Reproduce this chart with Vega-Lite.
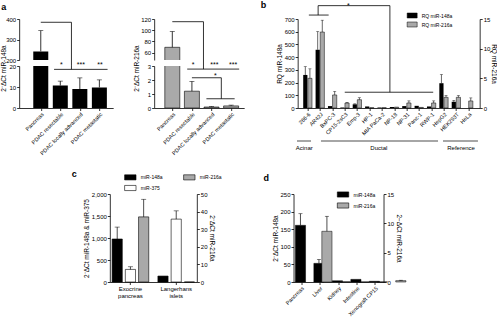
{
"$schema": "https://vega.github.io/schema/vega-lite/v6.json",
"padding": {"left": 0, "top": 0, "right": 0, "bottom": 8},
"background": "white",
"config": {
  "font": "Liberation Sans",
  "view": {"stroke": null},
  "axis": {"labelFontSize": 6, "titleFontSize": 6.5, "titleFontWeight": "normal", "domainColor": "black", "tickColor": "black", "labelColor": "black", "titleColor": "black", "tickSize": 2.5, "grid": false, "labelPadding": 1, "titlePadding": 2, "domainWidth": 0.8, "tickWidth": 0.8, "labelOverlap": false, "labelFlush": false, "labelBound": false},
  "legend": {"labelFontSize": 5, "labelColor": "black", "title": null},
  "title": {"fontSize": 9, "fontWeight": "bold", "anchor": "start", "frame": "group", "color": "black"}
},
"datasets": {
  "a1": [
    {"g": "Pancreas", "i": 1, "v": 242, "e": 343},
    {"g": "PDAC resectable", "i": 2, "v": 10.7, "e": 12.8},
    {"g": "PDAC locally advanced", "i": 3, "v": 9.0, "e": 14.3},
    {"g": "PDAC metastatic", "i": 4, "v": 9.8, "e": 13.4}
  ],
  "a1top": [
    {"x": 1, "x2": 2.57, "y": 384, "y2": 384},
    {"x": 2.57, "x2": 2.57, "y": 384, "y2": 171}
  ],
  "a1bot": [
    {"x": 2.57, "x2": 2.57, "y": 18.4, "y2": 20},
    {"x": 1.68, "x2": 4.42, "y": 18.4, "y2": 18.4}
  ],
  "a1stars": [
    {"i": 2.05, "y": 20.3, "t": "*"},
    {"i": 3.05, "y": 20.3, "t": "***"},
    {"i": 4.03, "y": 20.3, "t": "**"}
  ],
  "a2": [
    {"g": "Pancreas", "i": 1, "v": 69.6, "e": 97.8},
    {"g": "PDAC resectable", "i": 2, "v": 1.2, "e": 1.9},
    {"g": "PDAC locally advanced", "i": 3, "v": 0.07, "e": 0.1},
    {"g": "PDAC metastatic", "i": 4, "v": 0.15, "e": 0.2}
  ],
  "a2top": [
    {"x": 1, "x2": 2.59, "y": 115.2, "y2": 115.2},
    {"x": 2.59, "x2": 2.59, "y": 115.2, "y2": 36.3}
  ],
  "a2bot": [
    {"x": 2.59, "x2": 2.59, "y": 2.78, "y2": 3},
    {"x": 1.76, "x2": 4.41, "y": 2.78, "y2": 2.78},
    {"x": 2, "x2": 3.5, "y": 2.16, "y2": 2.16},
    {"x": 3.5, "x2": 3.5, "y": 2.16, "y2": 0.66},
    {"x": 2.74, "x2": 4.18, "y": 0.66, "y2": 0.66}
  ],
  "a2stars": [
    {"i": 2.06, "y": 3.09, "t": "*"},
    {"i": 3.15, "y": 3.09, "t": "***"},
    {"i": 4.1, "y": 3.09, "t": "***"},
    {"i": 3.2, "y": 2.27, "t": "*"}
  ],
  "b": [
    {"cell": "266-6", "i": 0, "s": "RQ miR-148a", "v": 260, "e": 325},
    {"cell": "AR42J", "i": 1, "s": "RQ miR-148a", "v": 458, "e": 601},
    {"cell": "BxPC-3", "i": 2, "s": "RQ miR-148a", "v": 15, "e": null},
    {"cell": "CP15-2sC3", "i": 3, "s": "RQ miR-148a", "v": 4, "e": null},
    {"cell": "Emp-3", "i": 4, "s": "RQ miR-148a", "v": 29, "e": 33},
    {"cell": "HP-1", "i": 5, "s": "RQ miR-148a", "v": 12, "e": null},
    {"cell": "MIA PaCa-2", "i": 6, "s": "RQ miR-148a", "v": 4, "e": null},
    {"cell": "NP-18", "i": 7, "s": "RQ miR-148a", "v": 8, "e": null},
    {"cell": "NP-31", "i": 8, "s": "RQ miR-148a", "v": 15, "e": null},
    {"cell": "Panc-1", "i": 9, "s": "RQ miR-148a", "v": 17, "e": null},
    {"cell": "RWP-1", "i": 10, "s": "RQ miR-148a", "v": 12, "e": null},
    {"cell": "HepG2", "i": 11, "s": "RQ miR-148a", "v": 195, "e": 263},
    {"cell": "HEK293T", "i": 12, "s": "RQ miR-148a", "v": 49, "e": 60},
    {"cell": "HeLa", "i": 13, "s": "RQ miR-148a", "v": 0, "e": null},
    {"cell": "266-6", "i": 0, "s": "RQ miR-216a", "v": 5.0, "e": 6.6},
    {"cell": "AR42J", "i": 1, "s": "RQ miR-216a", "v": 12.8, "e": 14.8},
    {"cell": "BxPC-3", "i": 2, "s": "RQ miR-216a", "v": 2.2, "e": 2.8},
    {"cell": "CP15-2sC3", "i": 3, "s": "RQ miR-216a", "v": 0.84, "e": 0.95},
    {"cell": "Emp-3", "i": 4, "s": "RQ miR-216a", "v": 1.4, "e": 1.73},
    {"cell": "HP-1", "i": 5, "s": "RQ miR-216a", "v": 0.05, "e": null},
    {"cell": "MIA PaCa-2", "i": 6, "s": "RQ miR-216a", "v": 0.05, "e": null},
    {"cell": "NP-18", "i": 7, "s": "RQ miR-216a", "v": 0.15, "e": null},
    {"cell": "NP-31", "i": 8, "s": "RQ miR-216a", "v": 0.85, "e": 1.2},
    {"cell": "Panc-1", "i": 9, "s": "RQ miR-216a", "v": 0.1, "e": null},
    {"cell": "RWP-1", "i": 10, "s": "RQ miR-216a", "v": 0.85, "e": 1.2},
    {"cell": "HepG2", "i": 11, "s": "RQ miR-216a", "v": 1.8, "e": 2.1},
    {"cell": "HEK293T", "i": 12, "s": "RQ miR-216a", "v": 1.8, "e": 2.1},
    {"cell": "HeLa", "i": 13, "s": "RQ miR-216a", "v": 1.19, "e": 1.7}
  ],
  "bbr": [
    {"x": 0.1, "x2": 1.7, "y": 731, "y2": 731},
    {"x": 0.85, "x2": 0.85, "y": 731, "y2": 805},
    {"x": 0.85, "x2": 6.65, "y": 805, "y2": 805},
    {"x": 6.65, "x2": 6.65, "y": 805, "y2": 124},
    {"x": 3.0, "x2": 10.15, "y": 124, "y2": 124}
  ],
  "bstars": [{"x": 3.3, "y": 805, "t": "*"}],
  "bgroups": [
    {"grp": "Acinar", "from": -0.45, "to": 0.62, "mid": 0.1},
    {"grp": "Ductal", "from": 1.38, "to": 10.32, "mid": 5.8},
    {"grp": "Reference", "from": 10.7, "to": 13.37, "mid": 12.08}
  ],
  "c": [
    {"tissue": "Exocrine pancreas", "mir": "miR-148a", "v": 977, "e": 1248},
    {"tissue": "Exocrine pancreas", "mir": "miR-375", "v": 286, "e": 346},
    {"tissue": "Exocrine pancreas", "mir": "miR-216a", "v": 37, "e": 47},
    {"tissue": "Langerhans islets", "mir": "miR-148a", "v": 135, "e": null},
    {"tissue": "Langerhans islets", "mir": "miR-375", "v": 1429, "e": 1617},
    {"tissue": "Langerhans islets", "mir": "miR-216a", "v": 0, "e": null}
  ],
  "d": [
    {"t": "Pancreas", "mir": "miR-148a", "v": 161, "e": 194},
    {"t": "Pancreas", "mir": "miR-216a", "v": 8.64, "e": 11.2},
    {"t": "Liver", "mir": "miR-148a", "v": 53, "e": 64},
    {"t": "Liver", "mir": "miR-216a", "v": 0.05, "e": null},
    {"t": "Kidney", "mir": "miR-148a", "v": 3.5, "e": null},
    {"t": "Kidney", "mir": "miR-216a", "v": 0.02, "e": null},
    {"t": "Intestine", "mir": "miR-148a", "v": 7.5, "e": null},
    {"t": "Intestine", "mir": "miR-216a", "v": 0.02, "e": null},
    {"t": "Xenograft CP15", "mir": "miR-148a", "v": 2, "e": null},
    {"t": "Xenograft CP15", "mir": "miR-216a", "v": 0.23, "e": 0.3}
  ]
},
"vconcat": [
  {
    "hconcat": [
      {
        "hconcat": [
          {
            "vconcat": [
              {
                "width": 94, "height": 41,
                "title": {"text": "a", "dx": -18, "offset": 4.5},
                "encoding": {
                  "x": {"field": "i", "type": "quantitative", "scale": {"domain": [0.15, 4.45], "nice": false, "zero": false}, "axis": null},
                  "y": {"field": "v", "type": "quantitative", "scale": {"domain": [200, 400], "nice": false, "zero": false}, "axis": {"values": [200, 300, 400], "title": null}}
                },
                "layer": [
                  {"data": {"name": "a1"}, "mark": {"type": "bar", "size": 15, "color": "black", "clip": true}},
                  {"data": {"name": "a1"}, "mark": {"type": "rule", "clip": true, "color": "black", "strokeWidth": 0.8}, "encoding": {"y2": {"field": "e"}}},
                  {"data": {"name": "a1"}, "mark": {"type": "tick", "clip": true, "color": "black", "orient": "horizontal", "size": 5, "thickness": 0.8},
                   "encoding": {"y": {"field": "e", "type": "quantitative", "axis": {"values": [200, 300, 400], "title": null}}}},
                  {"data": {"name": "a1top"}, "mark": {"type": "rule", "color": "black", "strokeWidth": 0.8},
                   "encoding": {"x": {"field": "x", "type": "quantitative", "axis": null}, "x2": {"field": "x2"}, "y": {"field": "y", "type": "quantitative", "axis": {"values": [200, 300, 400], "title": null}}, "y2": {"field": "y2"}}}
                ]
              },
              {
                "width": 94, "height": 42,
                "encoding": {
                  "x": {"field": "i", "type": "quantitative", "scale": {"domain": [0.15, 4.45], "nice": false, "zero": false},
                        "axis": {"values": [1, 2, 3, 4], "labelExpr": "['','Pancreas','PDAC resectable','PDAC locally advanced','PDAC metastatic'][datum.value]", "labelAngle": -45, "labelAlign": "right", "labelBaseline": "top", "labelFontSize": 5.5, "title": null}},
                  "y": {"field": "v", "type": "quantitative", "scale": {"domain": [0, 20], "nice": false, "zero": false},
                        "axis": {"values": [0, 10, 20], "title": "2⁻ΔCt miR-148a", "titleX": -13, "titleY": 2, "titleAlign": "center", "titleAngle": -90, "titleBaseline": "bottom"}}
                },
                "layer": [
                  {"data": {"name": "a1"}, "mark": {"type": "bar", "size": 15, "color": "black", "clip": true}},
                  {"data": {"name": "a1"}, "mark": {"type": "rule", "clip": true, "color": "black", "strokeWidth": 0.8}, "encoding": {"y2": {"field": "e"}}},
                  {"data": {"name": "a1"}, "mark": {"type": "tick", "clip": true, "color": "black", "orient": "horizontal", "size": 5, "thickness": 0.8},
                   "encoding": {"y": {"field": "e", "type": "quantitative", "axis": {"values": [0, 10, 20], "title": "2⁻ΔCt miR-148a", "titleX": -13, "titleY": 2, "titleAlign": "center", "titleAngle": -90, "titleBaseline": "bottom"}}}},
                  {"data": {"name": "a1bot"}, "mark": {"type": "rule", "color": "black", "strokeWidth": 0.8},
                   "encoding": {
                     "x": {"field": "x", "type": "quantitative", "axis": {"values": [1, 2, 3, 4], "labelExpr": "['','Pancreas','PDAC resectable','PDAC locally advanced','PDAC metastatic'][datum.value]", "labelAngle": -45, "labelAlign": "right", "labelBaseline": "top", "labelFontSize": 5.5, "title": null}},
                     "x2": {"field": "x2"},
                     "y": {"field": "y", "type": "quantitative", "axis": {"values": [0, 10, 20], "title": "2⁻ΔCt miR-148a", "titleX": -13, "titleY": 2, "titleAlign": "center", "titleAngle": -90, "titleBaseline": "bottom"}},
                     "y2": {"field": "y2"}}},
                  {"data": {"name": "a1stars"}, "mark": {"type": "text", "fontSize": 7, "baseline": "middle", "color": "black"},
                   "encoding": {
                     "y": {"field": "y", "type": "quantitative", "axis": {"values": [0, 10, 20], "title": "2⁻ΔCt miR-148a", "titleX": -13, "titleY": 2, "titleAlign": "center", "titleAngle": -90, "titleBaseline": "bottom"}},
                     "text": {"field": "t"}}}
                ]
              }
            ],
            "spacing": 6, "bounds": "flush"
          },
          {
            "vconcat": [
              {
                "width": 90, "height": 41,
                "title": {"text": "a", "color": "transparent", "offset": 4.5},
                "encoding": {
                  "x": {"field": "i", "type": "quantitative", "scale": {"domain": [0.33, 4.41], "nice": false, "zero": false}, "axis": null},
                  "y": {"field": "v", "type": "quantitative", "scale": {"domain": [47, 120], "nice": false, "zero": false}, "axis": {"values": [60, 80, 100, 120], "title": null}}
                },
                "layer": [
                  {"data": {"name": "a2"}, "mark": {"type": "bar", "size": 15, "color": "#a9a9a9", "stroke": "black", "strokeWidth": 0.6, "clip": true}},
                  {"data": {"name": "a2"}, "mark": {"type": "rule", "clip": true, "color": "black", "strokeWidth": 0.8}, "encoding": {"y2": {"field": "e"}}},
                  {"data": {"name": "a2"}, "mark": {"type": "tick", "clip": true, "color": "black", "orient": "horizontal", "size": 5, "thickness": 0.8},
                   "encoding": {"y": {"field": "e", "type": "quantitative", "axis": {"values": [60, 80, 100, 120], "title": null}}}},
                  {"data": {"name": "a2top"}, "mark": {"type": "rule", "color": "black", "strokeWidth": 0.8},
                   "encoding": {"x": {"field": "x", "type": "quantitative", "axis": null}, "x2": {"field": "x2"}, "y": {"field": "y", "type": "quantitative", "axis": {"values": [60, 80, 100, 120], "title": null}}, "y2": {"field": "y2"}}}
                ]
              },
              {
                "width": 90, "height": 42,
                "encoding": {
                  "x": {"field": "i", "type": "quantitative", "scale": {"domain": [0.33, 4.41], "nice": false, "zero": false},
                        "axis": {"values": [1, 2, 3, 4], "labelExpr": "['','Pancreas','PDAC resectable','PDAC locally advanced','PDAC metastatic'][datum.value]", "labelAngle": -45, "labelAlign": "right", "labelBaseline": "top", "labelFontSize": 5.5, "title": null}},
                  "y": {"field": "v", "type": "quantitative", "scale": {"domain": [0, 3], "nice": false, "zero": false},
                        "axis": {"values": [0, 1, 2, 3], "title": "2⁻ΔCt miR-216a", "titleX": -15, "titleY": 2, "titleAlign": "center", "titleAngle": -90, "titleBaseline": "bottom"}}
                },
                "layer": [
                  {"data": {"name": "a2"}, "mark": {"type": "bar", "size": 15, "color": "#a9a9a9", "stroke": "black", "strokeWidth": 0.6, "clip": true}},
                  {"data": {"name": "a2"}, "mark": {"type": "rule", "clip": true, "color": "black", "strokeWidth": 0.8}, "encoding": {"y2": {"field": "e"}}},
                  {"data": {"name": "a2"}, "mark": {"type": "tick", "clip": true, "color": "black", "orient": "horizontal", "size": 5, "thickness": 0.8},
                   "encoding": {"y": {"field": "e", "type": "quantitative", "axis": {"values": [0, 1, 2, 3], "title": "2⁻ΔCt miR-216a", "titleX": -15, "titleY": 2, "titleAlign": "center", "titleAngle": -90, "titleBaseline": "bottom"}}}},
                  {"data": {"name": "a2bot"}, "mark": {"type": "rule", "color": "black", "strokeWidth": 0.8},
                   "encoding": {
                     "x": {"field": "x", "type": "quantitative", "axis": {"values": [1, 2, 3, 4], "labelExpr": "['','Pancreas','PDAC resectable','PDAC locally advanced','PDAC metastatic'][datum.value]", "labelAngle": -45, "labelAlign": "right", "labelBaseline": "top", "labelFontSize": 5.5, "title": null}},
                     "x2": {"field": "x2"},
                     "y": {"field": "y", "type": "quantitative", "axis": {"values": [0, 1, 2, 3], "title": "2⁻ΔCt miR-216a", "titleX": -15, "titleY": 2, "titleAlign": "center", "titleAngle": -90, "titleBaseline": "bottom"}},
                     "y2": {"field": "y2"}}},
                  {"data": {"name": "a2stars"}, "mark": {"type": "text", "fontSize": 7, "baseline": "middle", "color": "black"},
                   "encoding": {
                     "y": {"field": "y", "type": "quantitative", "axis": {"values": [0, 1, 2, 3], "title": "2⁻ΔCt miR-216a", "titleX": -15, "titleY": 2, "titleAlign": "center", "titleAngle": -90, "titleBaseline": "bottom"}},
                     "text": {"field": "t"}}}
                ]
              }
            ],
            "spacing": 6, "bounds": "flush"
          }
        ],
        "spacing": 19,
        "resolve": {"scale": {"color": "independent"}, "legend": {"color": "independent"}}
      },
      {
        "vconcat": [
          {
            "width": 182, "height": 89,
            "title": {"text": "b", "dx": -37, "offset": -8},
            "layer": [
              {
                "encoding": {
                  "x": {"field": "i", "type": "quantitative", "scale": {"domain": [-0.4, 13.5], "nice": false, "zero": false},
                        "axis": {"values": [0, 1, 2, 3, 4, 5, 6, 7, 8, 9, 10, 11, 12, 13], "labelExpr": "['266-6','AR42J','BxPC-3','CP15-2sC3','Emp-3','HP-1','MIA PaCa-2','NP-18','NP-31','Panc-1','RWP-1','HepG2','HEK293T','HeLa'][datum.value]", "labelAngle": -45, "labelAlign": "right", "labelBaseline": "top", "labelFontSize": 5.5, "title": null}},
                  "y": {"field": "v", "type": "quantitative", "scale": {"domain": [0, 700], "nice": false, "zero": false},
                        "axis": {"values": [0, 100, 200, 300, 400, 500, 600, 700], "title": "RQ miR-148a"}}
                },
                "layer": [
                  {"data": {"name": "b"}, "transform": [{"filter": "datum.s == 'RQ miR-148a'"}],
                   "mark": {"type": "bar", "size": 4.2, "xOffset": -2.3},
                   "encoding": {
                     "color": {"field": "s", "type": "nominal", "scale": {"domain": ["RQ miR-148a", "RQ miR-216a"], "range": ["black", "#a9a9a9"]},
                               "legend": {"orient": "none", "legendX": 109, "legendY": -9, "symbolType": "M-1,-0.5H1V0.5H-1Z", "symbolSize": 100, "symbolStrokeColor": "black", "symbolStrokeWidth": 0.5, "rowPadding": 0, "labelFontSize": 5}}}},
                  {"data": {"name": "b"}, "transform": [{"filter": "datum.s == 'RQ miR-148a' && datum.e != null"}],
                   "mark": {"type": "rule", "color": "black", "strokeWidth": 0.6, "xOffset": -2.3},
                   "encoding": {"y2": {"field": "e"}}},
                  {"data": {"name": "b"}, "transform": [{"filter": "datum.s == 'RQ miR-148a' && datum.e != null"}],
                   "mark": {"type": "tick", "color": "black", "orient": "horizontal", "size": 3, "thickness": 0.6, "xOffset": -2.3},
                   "encoding": {"y": {"field": "e", "type": "quantitative", "axis": {"values": [0, 100, 200, 300, 400, 500, 600, 700], "title": "RQ miR-148a"}}}},
                  {"data": {"name": "bbr"}, "mark": {"type": "rule", "color": "black", "strokeWidth": 0.8},
                   "encoding": {
                     "x": {"field": "x", "type": "quantitative", "axis": {"values": [0, 1, 2, 3, 4, 5, 6, 7, 8, 9, 10, 11, 12, 13], "labelExpr": "['266-6','AR42J','BxPC-3','CP15-2sC3','Emp-3','HP-1','MIA PaCa-2','NP-18','NP-31','Panc-1','RWP-1','HepG2','HEK293T','HeLa'][datum.value]", "labelAngle": -45, "labelAlign": "right", "labelBaseline": "top", "labelFontSize": 5.5, "title": null}},
                     "x2": {"field": "x2"},
                     "y": {"field": "y", "type": "quantitative", "axis": {"values": [0, 100, 200, 300, 400, 500, 600, 700], "title": "RQ miR-148a"}},
                     "y2": {"field": "y2"}}},
                  {"data": {"name": "bstars"}, "mark": {"type": "text", "fontSize": 7, "baseline": "middle", "color": "black"},
                   "encoding": {
                     "x": {"field": "x", "type": "quantitative", "axis": {"values": [0, 1, 2, 3, 4, 5, 6, 7, 8, 9, 10, 11, 12, 13], "labelExpr": "['266-6','AR42J','BxPC-3','CP15-2sC3','Emp-3','HP-1','MIA PaCa-2','NP-18','NP-31','Panc-1','RWP-1','HepG2','HEK293T','HeLa'][datum.value]", "labelAngle": -45, "labelAlign": "right", "labelBaseline": "top", "labelFontSize": 5.5, "title": null}},
                     "y": {"field": "y", "type": "quantitative", "axis": {"values": [0, 100, 200, 300, 400, 500, 600, 700], "title": "RQ miR-148a"}},
                     "text": {"field": "t"}}}
                ]
              },
              {
                "encoding": {
                  "x": {"field": "i", "type": "quantitative",
                        "axis": {"values": [0, 1, 2, 3, 4, 5, 6, 7, 8, 9, 10, 11, 12, 13], "labelExpr": "['266-6','AR42J','BxPC-3','CP15-2sC3','Emp-3','HP-1','MIA PaCa-2','NP-18','NP-31','Panc-1','RWP-1','HepG2','HEK293T','HeLa'][datum.value]", "labelAngle": -45, "labelAlign": "right", "labelBaseline": "top", "labelFontSize": 5.5, "title": null}},
                  "y": {"field": "v", "type": "quantitative", "scale": {"domain": [0, 15], "nice": false, "zero": false},
                        "axis": {"orient": "right", "values": [0, 5, 10, 15], "title": "RQ miR-216a", "titlePadding": 1}}
                },
                "layer": [
                  {"data": {"name": "b"}, "transform": [{"filter": "datum.s == 'RQ miR-216a'"}],
                   "mark": {"type": "bar", "size": 4.2, "xOffset": 2.3, "stroke": "black", "strokeWidth": 0.5},
                   "encoding": {"color": {"field": "s", "type": "nominal"}}},
                  {"data": {"name": "b"}, "transform": [{"filter": "datum.s == 'RQ miR-216a' && datum.e != null"}],
                   "mark": {"type": "rule", "color": "black", "strokeWidth": 0.6, "xOffset": 2.3},
                   "encoding": {"y2": {"field": "e"}}},
                  {"data": {"name": "b"}, "transform": [{"filter": "datum.s == 'RQ miR-216a' && datum.e != null"}],
                   "mark": {"type": "tick", "color": "black", "orient": "horizontal", "size": 3, "thickness": 0.6, "xOffset": 2.3},
                   "encoding": {"y": {"field": "e", "type": "quantitative", "axis": {"orient": "right", "values": [0, 5, 10, 15], "title": "RQ miR-216a", "titlePadding": 1}}}}
                ]
              }
            ],
            "resolve": {"scale": {"y": "independent"}}
          },
          {
            "width": 182, "height": 8,
            "data": {"name": "bgroups"},
            "layer": [
              {"mark": {"type": "rule", "color": "black", "strokeWidth": 0.7},
               "encoding": {"x": {"field": "from", "type": "quantitative", "scale": {"domain": [-0.4, 13.5], "nice": false, "zero": false}, "axis": null}, "x2": {"field": "to"}}},
              {"mark": {"type": "text", "fontSize": 6, "dy": 7, "color": "black"},
               "encoding": {"x": {"field": "mid", "type": "quantitative", "axis": null}, "text": {"field": "grp"}}}
            ]
          }
        ],
        "spacing": 29, "bounds": "flush",
        "resolve": {"scale": {"color": "independent"}, "legend": {"color": "independent"}}
      }
    ],
    "spacing": 16.5,
    "resolve": {"scale": {"color": "independent"}, "legend": {"color": "independent"}}
  },
  {
    "hconcat": [
      {
        "width": 87, "height": 88,
        "title": {"text": "c", "dx": -38, "offset": -8},
        "layer": [
          {
            "encoding": {
              "x": {"field": "tissue", "type": "nominal", "scale": {"domain": ["Exocrine pancreas", "Langerhans islets"], "paddingInner": 0.2, "paddingOuter": 0.05},
                    "axis": {"labelAngle": 0, "labelExpr": "split(datum.label, ' ')", "labelBaseline": "top", "labelAlign": "center", "labelLineHeight": 7, "labelFontSize": 6, "title": null}},
              "xOffset": {"field": "mir", "type": "nominal", "scale": {"domain": ["miR-148a", "miR-375", "miR-216a"], "paddingInner": 0.23}},
              "y": {"field": "v", "type": "quantitative", "scale": {"domain": [0, 2000], "nice": false, "zero": false},
                    "axis": {"values": [0, 500, 1000, 1500, 2000], "format": ",d", "title": "2⁻ΔCt miR-148a & miR-375"}}
            },
            "layer": [
              {"data": {"name": "c"}, "transform": [{"filter": "datum.mir != 'miR-216a'"}],
               "mark": {"type": "bar", "stroke": "black", "strokeWidth": 0.6},
               "encoding": {
                 "color": {"field": "mir", "type": "nominal", "scale": {"domain": ["miR-148a", "miR-375", "miR-216a"], "range": ["black", "white", "#a9a9a9"]},
                           "legend": {"orient": "none", "legendX": 14, "legendY": -23.5, "columns": 2, "columnPadding": 19, "rowPadding": 0, "symbolType": "M-1,-0.45H1V0.45H-1Z", "symbolSize": 130, "symbolStrokeColor": "black", "symbolStrokeWidth": 0.6, "labelFontSize": 5}}}},
              {"data": {"name": "c"}, "transform": [{"filter": "datum.mir != 'miR-216a' && datum.e != null"}],
               "mark": {"type": "rule", "color": "black", "strokeWidth": 0.7},
               "encoding": {"y2": {"field": "e"}}},
              {"data": {"name": "c"}, "transform": [{"filter": "datum.mir != 'miR-216a' && datum.e != null"}],
               "mark": {"type": "tick", "color": "black", "orient": "horizontal", "size": 5, "thickness": 0.7},
               "encoding": {"y": {"field": "e", "type": "quantitative", "axis": {"values": [0, 500, 1000, 1500, 2000], "format": ",d", "title": "2⁻ΔCt miR-148a & miR-375"}}}}
            ]
          },
          {
            "encoding": {
              "x": {"field": "tissue", "type": "nominal",
                    "axis": {"labelAngle": 0, "labelExpr": "split(datum.label, ' ')", "labelBaseline": "top", "labelAlign": "center", "labelLineHeight": 7, "labelFontSize": 6, "title": null}},
              "xOffset": {"field": "mir", "type": "nominal"},
              "y": {"field": "v", "type": "quantitative", "scale": {"domain": [0, 50], "nice": false, "zero": false},
                    "axis": {"orient": "right", "values": [0, 10, 20, 30, 40, 50], "title": "2⁻ΔCt miR-216a"}}
            },
            "layer": [
              {"data": {"name": "c"}, "transform": [{"filter": "datum.mir == 'miR-216a'"}],
               "mark": {"type": "bar", "stroke": "black", "strokeWidth": 0.6},
               "encoding": {"color": {"field": "mir", "type": "nominal"}}},
              {"data": {"name": "c"}, "transform": [{"filter": "datum.mir == 'miR-216a' && datum.e != null"}],
               "mark": {"type": "rule", "color": "black", "strokeWidth": 0.7},
               "encoding": {"y2": {"field": "e"}}},
              {"data": {"name": "c"}, "transform": [{"filter": "datum.mir == 'miR-216a' && datum.e != null"}],
               "mark": {"type": "tick", "color": "black", "orient": "horizontal", "size": 5, "thickness": 0.7},
               "encoding": {"y": {"field": "e", "type": "quantitative", "axis": {"orient": "right", "values": [0, 10, 20, 30, 40, 50], "title": "2⁻ΔCt miR-216a"}}}}
            ]
          }
        ],
        "resolve": {"scale": {"y": "independent"}}
      },
      {
        "width": 90, "height": 88,
        "title": {"text": "d", "dx": -30, "offset": 5},
        "layer": [
          {
            "encoding": {
              "x": {"field": "t", "type": "nominal", "scale": {"domain": ["Pancreas", "Liver", "Kidney", "Intestine", "Xenograft CP15"], "paddingInner": 0.33, "paddingOuter": 0.1},
                    "axis": {"labelAngle": -45, "labelAlign": "right", "labelBaseline": "top", "labelFontSize": 5.5, "title": null}},
              "xOffset": {"field": "mir", "type": "nominal", "scale": {"domain": ["miR-148a", "miR-216a"], "paddingInner": 0.05}},
              "y": {"field": "v", "type": "quantitative", "scale": {"domain": [0, 250], "nice": false, "zero": false},
                    "axis": {"values": [0, 50, 100, 150, 200, 250], "title": "2⁻ΔCt miR-148a"}}
            },
            "layer": [
              {"data": {"name": "d"}, "transform": [{"filter": "datum.mir == 'miR-148a'"}],
               "mark": {"type": "bar", "stroke": "black", "strokeWidth": 0.5},
               "encoding": {
                 "color": {"field": "mir", "type": "nominal", "scale": {"domain": ["miR-148a", "miR-216a"], "range": ["black", "#a9a9a9"]},
                           "legend": {"orient": "none", "legendX": 43, "legendY": -6, "rowPadding": 0, "symbolType": "M-1,-0.45H1V0.45H-1Z", "symbolSize": 130, "symbolStrokeColor": "black", "symbolStrokeWidth": 0.6, "labelFontSize": 5}}}},
              {"data": {"name": "d"}, "transform": [{"filter": "datum.mir == 'miR-148a' && datum.e != null"}],
               "mark": {"type": "rule", "color": "black", "strokeWidth": 0.7},
               "encoding": {"y2": {"field": "e"}}},
              {"data": {"name": "d"}, "transform": [{"filter": "datum.mir == 'miR-148a' && datum.e != null"}],
               "mark": {"type": "tick", "color": "black", "orient": "horizontal", "size": 4, "thickness": 0.7},
               "encoding": {"y": {"field": "e", "type": "quantitative", "axis": {"values": [0, 50, 100, 150, 200, 250], "title": "2⁻ΔCt miR-148a"}}}}
            ]
          },
          {
            "encoding": {
              "x": {"field": "t", "type": "nominal",
                    "axis": {"labelAngle": -45, "labelAlign": "right", "labelBaseline": "top", "labelFontSize": 5.5, "title": null}},
              "xOffset": {"field": "mir", "type": "nominal"},
              "y": {"field": "v", "type": "quantitative", "scale": {"domain": [0, 15], "nice": false, "zero": false},
                    "axis": {"orient": "right", "values": [0, 5, 10, 15], "title": "2−ΔCt miR-216a"}}
            },
            "layer": [
              {"data": {"name": "d"}, "transform": [{"filter": "datum.mir == 'miR-216a'"}],
               "mark": {"type": "bar", "stroke": "black", "strokeWidth": 0.5},
               "encoding": {"color": {"field": "mir", "type": "nominal"}}},
              {"data": {"name": "d"}, "transform": [{"filter": "datum.mir == 'miR-216a' && datum.e != null"}],
               "mark": {"type": "rule", "color": "black", "strokeWidth": 0.7},
               "encoding": {"y2": {"field": "e"}}},
              {"data": {"name": "d"}, "transform": [{"filter": "datum.mir == 'miR-216a' && datum.e != null"}],
               "mark": {"type": "tick", "color": "black", "orient": "horizontal", "size": 4, "thickness": 0.7},
               "encoding": {"y": {"field": "e", "type": "quantitative", "axis": {"orient": "right", "values": [0, 5, 10, 15], "title": "2−ΔCt miR-216a"}}}}
            ]
          }
        ],
        "resolve": {"scale": {"y": "independent"}}
      }
    ],
    "spacing": 96.7, "bounds": "flush",
    "title": {"text": "c", "orient": "left", "color": "transparent", "offset": 21, "fontSize": 6},
    "resolve": {"scale": {"color": "independent"}, "legend": {"color": "independent"}}
  }
],
"spacing": 12,
"center": true,
"resolve": {"scale": {"color": "independent"}, "legend": {"color": "independent"}}
}
